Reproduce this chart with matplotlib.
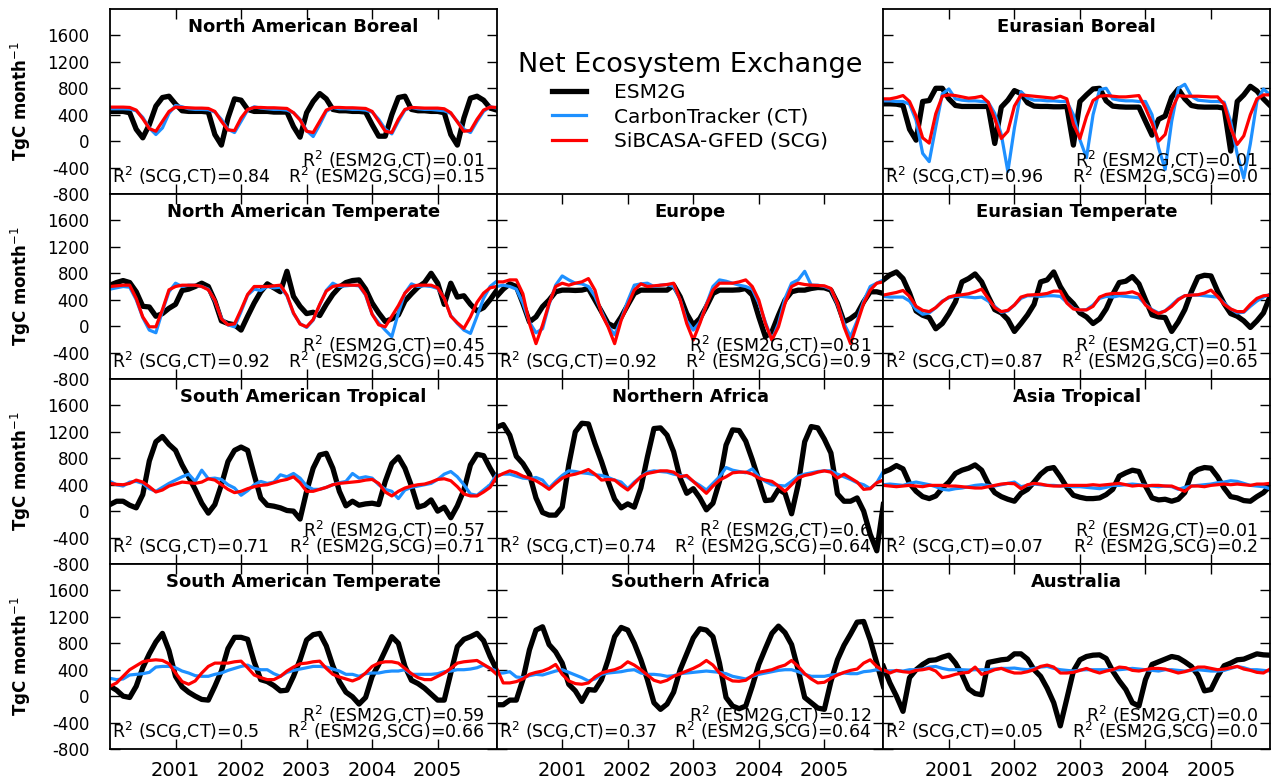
import numpy as np
import matplotlib
matplotlib.use('Agg')
import matplotlib.pyplot as plt

plt.rcParams['font.family'] = 'DejaVu Sans'
plt.rcParams['mathtext.fontset'] = 'dejavusans'
plt.rcParams['axes.unicode_minus'] = False

# monthly index, 60 months
months = np.arange(60)
year_ticks = [10, 20, 30, 40, 50]
year_labels = ['2001', '2002', '2003', '2004', '2005']
y_ticks = [-800, -400, 0, 400, 800, 1200, 1600]

# North American Boreal
nab_esm = [450, 450, 450, 430, 180, 50, 250, 530, 660, 680, 560, 460,
           450, 450, 450, 440, 100, -60, 350, 640, 620, 480, 450, 450,
           450, 440, 440, 440, 220, 60, 430, 600, 720, 640, 480, 460,
           460, 450, 450, 440, 250, 75, 75, 400, 660, 680, 480, 460,
           460, 450, 450, 430, 100, -60, 350, 650, 680, 620, 500, 470]
nab_ct = [490, 490, 490, 485, 460, 360, 200, 100, 200, 420, 540, 520,
          490, 480, 480, 475, 440, 330, 180, 130, 300, 470, 520, 500,
          490, 480, 480, 470, 430, 330, 160, 70, 250, 450, 510, 490,
          490, 480, 480, 470, 440, 330, 180, 110, 300, 470, 510, 490,
          480, 480, 470, 460, 420, 300, 180, 130, 300, 450, 520, 500]
nab_scg = [515, 515, 515, 510, 470, 340, 190, 150, 300, 450, 515, 510,
           505, 500, 500, 495, 450, 300, 170, 160, 350, 480, 510, 510,
           505, 505, 500, 495, 430, 320, 150, 130, 300, 470, 510, 510,
           505, 505, 500, 495, 450, 300, 150, 130, 330, 480, 510, 505,
           500, 500, 500, 490, 430, 290, 150, 160, 330, 470, 515, 510]

# Eurasian Boreal
eab_esm = [565, 565, 560, 540, 180, 15, 600, 615, 800, 800, 640, 540,
           525, 525, 525, 525, 525, -35, 515, 620, 765, 720, 580, 530,
           525, 525, 520, 520, 525, -60, 600, 700, 790, 800, 610, 530,
           520, 515, 515, 515, 300, 90, 330, 380, 665, 790, 640, 540,
           520, 515, 515, 515, 500, -150, 600, 700, 830, 760, 640, 540]
eab_ct = [610, 610, 600, 600, 560, 315, -185, -310, 215, 715, 790, 640,
          620, 610, 610, 600, 590, 420, 100, -460, 200, 750, 650, 620,
          620, 610, 610, 600, 600, 400, 20, -250, 400, 780, 800, 640,
          620, 610, 610, 600, 600, 400, -100, -430, 300, 800, 860, 680,
          620, 610, 600, 600, 590, 300, -200, -560, -40, 600, 790, 700]
eab_scg = [640, 640, 660, 690, 600, 380, 50, -30, 415, 680, 700, 690,
           670, 650, 660, 680, 590, 340, 40, 150, 530, 700, 690, 680,
           670, 660, 650, 680, 640, 260, 40, 370, 615, 680, 690, 680,
           670, 670, 680, 690, 500, 270, 0, 100, 480, 690, 680, 680,
           680, 675, 670, 670, 560, 200, -50, 80, 400, 640, 700, 700]

# North American Temperate
nat_esm = [620, 660, 690, 660, 520, 300, 290, 150, 190, 270, 330, 540,
           560, 600, 650, 600, 380, 80, 40, 20, -60, 150, 350, 520,
           640, 580, 520, 830, 450, 300, 190, 210, 160, 330, 480, 590,
           660, 690, 700, 560, 350, 200, 70, 110, 170, 380, 490, 590,
           660, 800, 650, 330, 650, 440, 460, 330, 230, 280, 400, 540]
nat_ct = [560, 580, 600, 590, 400, 130, -60, -100, 230, 520, 650, 600,
          620, 620, 600, 560, 380, 120, 20, -10, 220, 470, 560, 540,
          600, 580, 590, 460, 190, 40, -20, 90, 320, 540, 650, 600,
          610, 620, 610, 470, 180, 50, -60, -160, 200, 500, 640, 600,
          610, 600, 570, 420, 160, 40, -60, -110, 150, 420, 600, 680]
nat_scg = [600, 610, 620, 620, 420, 140, -10, -10, 250, 550, 600, 620,
           620, 620, 600, 550, 395, 110, 20, 35, 250, 480, 600, 600,
           600, 610, 620, 470, 200, 30, -10, 100, 330, 530, 600, 620,
           620, 620, 620, 480, 180, 20, -10, 150, 310, 500, 600, 620,
           620, 620, 580, 420, 150, 50, -35, 140, 360, 500, 580, 600]

# Europe
eu_esm = [450, 560, 640, 600, 345, 65, 140, 295, 395, 520, 545, 545,
          540, 545, 570, 395, 220, 40, -10, 140, 320, 495, 545, 545,
          545, 545, 545, 620, 445, 190, 15, 115, 295, 495, 545, 545,
          545, 550, 570, 470, 140, -160, -85, 165, 395, 520, 545, 545,
          570, 585, 580, 545, 345, 65, 115, 190, 370, 520, 520, 495]
eu_ct = [600, 620, 600, 560, 350, 60, -100, -40, 330, 620, 760, 700,
         650, 640, 600, 450, 220, 0, -130, 100, 380, 620, 640, 650,
         600, 620, 630, 600, 400, 80, -60, 60, 330, 600, 700, 680,
         650, 620, 600, 560, 350, 60, -210, 40, 420, 650, 700, 830,
         620, 620, 600, 560, 330, 40, -160, 80, 380, 600, 650, 700]
eu_scg = [670, 670, 700, 700, 490, 40, -265, 15, 345, 600, 650, 620,
          650, 670, 720, 545, 190, -10, -265, 90, 320, 545, 640, 600,
          610, 620, 630, 650, 395, 40, -210, 40, 320, 545, 650, 650,
          650, 670, 700, 600, 395, 40, -210, -10, 345, 600, 650, 630,
          620, 615, 610, 570, 345, -10, -265, 40, 345, 545, 650, 670]

# Eurasian Temperate
eat_esm = [700, 775, 820, 720, 500, 230, 165, 130, -40, 40, 190, 370,
           670, 720, 790, 670, 450, 250, 200, 100, -80, 40, 170, 330,
           670, 700, 820, 600, 440, 340, 200, 140, 40, 110, 260, 480,
           660, 680, 750, 640, 400, 170, 140, 130, -80, 65, 250, 520,
           740, 770, 760, 530, 340, 190, 150, 80, -20, 80, 200, 450]
eat_ct = [450, 440, 440, 440, 380, 250, 180, 200, 280, 380, 430, 450,
          450, 440, 430, 440, 380, 300, 210, 230, 320, 420, 460, 460,
          450, 460, 460, 450, 360, 270, 240, 250, 320, 420, 450, 440,
          460, 450, 440, 430, 330, 250, 200, 230, 320, 410, 460, 470,
          470, 460, 450, 440, 350, 260, 200, 210, 300, 380, 440, 480]
eat_scg = [470, 490, 510, 540, 450, 300, 240, 220, 280, 370, 440, 465,
           475, 490, 520, 560, 420, 280, 220, 240, 320, 440, 470, 475,
           480, 495, 530, 530, 350, 260, 245, 245, 300, 440, 480, 495,
           495, 500, 520, 480, 320, 240, 190, 230, 300, 400, 460, 470,
           475, 500, 545, 450, 330, 260, 220, 220, 330, 420, 460, 470]

# South American Tropical
sat_esm = [100, 150, 150, 90, 50, 250, 760, 1050, 1130, 1010, 920, 700,
           520, 330, 120, -30, 100, 400, 750, 920, 970, 920, 550, 200,
           90, 75, 50, 10, 0, -120, 300, 650, 850, 875, 650, 300,
           80, 150, 90, 110, 120, 100, 450, 720, 820, 650, 380, 60,
           90, 170, 0, 60, -100, 80, 320, 700, 860, 840, 650, 480]
sat_ct = [450, 400, 380, 440, 450, 420, 340, 300, 360, 420, 470, 520,
          560, 450, 620, 490, 500, 480, 400, 350, 240, 310, 400, 450,
          420, 440, 550, 520, 570, 500, 380, 330, 330, 360, 400, 430,
          450, 570, 500, 520, 500, 400, 330, 300, 190, 320, 360, 380,
          400, 420, 480, 560, 600, 520, 400, 260, 240, 320, 400, 550]
sat_scg = [420, 405, 400, 420, 470, 440, 370, 290, 320, 380, 410, 440,
           430, 420, 440, 490, 470, 400, 330, 280, 300, 340, 370, 390,
           400, 430, 460, 480, 520, 430, 300, 300, 330, 360, 400, 420,
           430, 440, 450, 470, 480, 420, 290, 230, 300, 350, 380, 400,
           410, 440, 480, 490, 460, 370, 260, 230, 230, 290, 360, 520]

# Northern Africa
naf_esm = [1270, 1310, 1150, 830, 720, 560, 200, -20, -60, -60, 60, 700,
           1200, 1330, 1320, 1020, 750, 450, 180, 50, 110, 60, 350, 820,
           1250, 1260, 1150, 900, 500, 270, 340, 200, 20, 120, 450, 1000,
           1230, 1220, 1060, 780, 470, 160, 170, 330, 270, -40, 400, 1050,
           1280, 1260, 1090, 880, 260, 150, 150, 200, 0, -350, -600, 100]
naf_ct = [540, 560, 560, 530, 500, 490, 510, 470, 350, 450, 540, 610,
          600, 580, 570, 550, 540, 510, 470, 440, 340, 440, 520, 590,
          610, 600, 590, 560, 540, 520, 450, 390, 320, 420, 520, 660,
          620, 600, 580, 640, 520, 450, 400, 390, 380, 450, 530, 560,
          580, 600, 610, 610, 560, 520, 480, 430, 400, 340, 430, 600]
naf_scg = [520, 570, 610, 580, 530, 500, 460, 400, 330, 420, 500, 540,
           560, 590, 630, 560, 470, 480, 470, 390, 320, 420, 520, 570,
           590, 610, 610, 590, 520, 540, 450, 360, 270, 380, 470, 520,
           580, 590, 590, 560, 500, 470, 450, 380, 300, 400, 500, 540,
           560, 590, 610, 590, 500, 560, 500, 440, 330, 340, 430, 470]

# Asia Tropical
ast_esm = [590, 630, 690, 640, 420, 300, 220, 190, 230, 350, 440, 570,
           620, 650, 700, 620, 420, 280, 220, 180, 150, 270, 330, 440,
           560, 640, 660, 520, 360, 240, 210, 190, 190, 200, 250, 330,
           530, 580, 620, 600, 380, 200, 170, 180, 150, 180, 280, 560,
           630, 660, 650, 520, 350, 220, 200, 160, 150, 220, 280, 380]
ast_ct = [400, 410, 400, 390, 420, 440, 420, 400, 370, 330, 320, 340,
          350, 370, 390, 400, 390, 380, 400, 420, 440, 370, 390, 410,
          400, 390, 390, 380, 380, 370, 370, 360, 350, 340, 360, 390,
          390, 400, 410, 400, 390, 380, 370, 380, 370, 330, 360, 380,
          390, 400, 410, 430, 440, 460, 450, 420, 390, 380, 370, 340]
ast_scg = [390, 380, 370, 380, 390, 380, 370, 390, 390, 390, 380, 380,
           370, 360, 350, 350, 370, 390, 410, 420, 415, 340, 400, 420,
           410, 390, 380, 380, 390, 390, 390, 390, 400, 390, 400, 410,
           420, 400, 380, 390, 380, 390, 390, 380, 380, 340, 300, 380,
           380, 370, 390, 400, 410, 400, 410, 400, 390, 410, 410, 420]

# South American Temperate
smt_esm = [150, 90, 0, -20, 150, 430, 640, 820, 950, 690, 300, 140,
           60, 0, -50, -60, 150, 380, 720, 890, 890, 860, 520, 250,
           220, 160, 80, 90, 300, 550, 850, 930, 950, 760, 460, 220,
           60, -10, -120, -20, 300, 480, 690, 900, 800, 450, 240, 190,
           120, 30, -60, -60, 350, 750, 860, 900, 950, 840, 600, 400]
smt_ct = [270, 250, 260, 320, 330, 340, 360, 440, 450, 450, 430, 380,
          350, 310, 300, 300, 330, 350, 390, 420, 450, 470, 420, 400,
          400, 340, 300, 360, 390, 410, 430, 450, 450, 440, 410, 380,
          330, 330, 300, 340, 350, 350, 370, 380, 380, 400, 330, 330,
          330, 330, 340, 370, 380, 400, 400, 410, 430, 470, 420, 380]
smt_scg = [150, 200, 300, 400, 460, 520, 540, 550, 540, 490, 350, 220,
           180, 230, 350, 450, 500, 500, 500, 520, 530, 430, 320, 280,
           250, 250, 300, 380, 440, 490, 500, 520, 530, 420, 330, 290,
           260, 230, 270, 350, 450, 500, 520, 520, 500, 420, 340, 280,
           250, 250, 300, 350, 420, 500, 520, 530, 540, 480, 420, 330]

# Southern Africa
saf_esm = [-130, -130, -60, -60, 250, 700, 1000, 1050, 780, 670, 500, 180,
           80, -80, 100, 90, 250, 550, 900, 1040, 1000, 800, 550, 250,
           -100, -200, -120, 60, 400, 640, 880, 1020, 1000, 900, 500, -20,
           -150, -190, -150, 150, 480, 720, 950, 1060, 960, 780, 400, -20,
           -100, -180, -200, 220, 550, 770, 940, 1120, 1130, 850, 500, 150]
saf_ct = [350, 350, 370, 290, 280, 310, 330, 320, 350, 380, 400, 360,
          320, 280, 230, 260, 330, 350, 360, 370, 390, 400, 350, 330,
          330, 320, 300, 310, 340, 350, 360, 370, 380, 370, 360, 340,
          300, 280, 260, 300, 330, 350, 370, 390, 400, 400, 370, 330,
          300, 300, 300, 320, 330, 350, 340, 340, 370, 380, 400, 400]
saf_scg = [420, 200, 200, 220, 260, 330, 360, 380, 420, 480, 330, 230,
           190, 180, 200, 290, 350, 380, 400, 440, 520, 470, 400, 320,
           240, 210, 240, 300, 340, 380, 420, 470, 540, 470, 350, 280,
           230, 225, 240, 310, 360, 380, 400, 440, 470, 540, 450, 340,
           260, 200, 210, 270, 320, 360, 390, 410, 500, 550, 450, 380]

# Australia
aus_esm = [450, 200, 0, -230, 280, 400, 480, 540, 550, 590, 620, 500,
           330, 110, 40, 20, 510, 530, 550, 560, 640, 640, 560, 400,
           300, 120, -100, -450, -40, 380, 550, 600, 620, 625, 570, 380,
           230, 100, -100, -150, 250, 480, 520, 560, 600, 580, 520, 450,
           320, 80, 100, 300, 460, 500, 550, 560, 600, 640, 625, 620]
aus_ct = [380, 380, 385, 380, 400, 400, 410, 440, 450, 420, 400, 400,
          400, 395, 400, 400, 400, 410, 420, 420, 425, 410, 400, 420,
          440, 450, 420, 400, 390, 380, 395, 400, 400, 400, 400, 400,
          400, 410, 420, 410, 400, 390, 380, 400, 400, 390, 380, 390,
          400, 390, 380, 380, 390, 420, 450, 430, 400, 400, 390, 380]
aus_scg = [400, 350, 390, 370, 360, 390, 400, 420, 380, 280, 300, 330,
           350, 360, 440, 330, 360, 400, 420, 380, 350, 350, 370, 400,
           450, 470, 440, 350, 350, 360, 390, 420, 380, 350, 380, 400,
           440, 430, 390, 380, 400, 420, 420, 410, 380, 350, 370, 400,
           440, 440, 420, 400, 410, 430, 450, 410, 390, 360, 350, 410]

# (row, col, title, ESM2G, CT, SCG, R2(SCG,CT), R2(ESM2G,CT), R2(ESM2G,SCG))
panels = [
    (0, 0, 'North American Boreal', nab_esm, nab_ct, nab_scg, '0.84', '0.01', '0.15'),
    (0, 2, 'Eurasian Boreal', eab_esm, eab_ct, eab_scg, '0.96', '0.01', '0.0'),
    (1, 0, 'North American Temperate', nat_esm, nat_ct, nat_scg, '0.92', '0.45', '0.45'),
    (1, 1, 'Europe', eu_esm, eu_ct, eu_scg, '0.92', '0.81', '0.9'),
    (1, 2, 'Eurasian Temperate', eat_esm, eat_ct, eat_scg, '0.87', '0.51', '0.65'),
    (2, 0, 'South American Tropical', sat_esm, sat_ct, sat_scg, '0.71', '0.57', '0.71'),
    (2, 1, 'Northern Africa', naf_esm, naf_ct, naf_scg, '0.74', '0.6', '0.64'),
    (2, 2, 'Asia Tropical', ast_esm, ast_ct, ast_scg, '0.07', '0.01', '0.2'),
    (3, 0, 'South American Temperate', smt_esm, smt_ct, smt_scg, '0.5', '0.59', '0.66'),
    (3, 1, 'Southern Africa', saf_esm, saf_ct, saf_scg, '0.37', '0.12', '0.64'),
    (3, 2, 'Australia', aus_esm, aus_ct, aus_scg, '0.05', '0.0', '0.0'),
]

fig, axes = plt.subplots(4, 3, figsize=(12.74, 7.81), dpi=100)
fig.subplots_adjust(left=110 / 1274, right=1270 / 1274, top=1 - 9 / 781,
                    bottom=1 - 749 / 781, wspace=0, hspace=0)

for r, c, title, esm, ct, scg, r_sc, r_ec, r_es in panels:
    ax = axes[r, c]
    ax.plot(months, esm, color='black', lw=3.8, label='ESM2G')
    ax.plot(months, ct, color='dodgerblue', lw=2.3, label='CarbonTracker (CT)')
    ax.plot(months, scg, color='red', lw=2.3, label='SiBCASA-GFED (SCG)')
    ax.set_xlim(0, 59)
    ax.set_ylim(-800, 2000)
    ax.set_xticks(year_ticks)
    ax.set_yticks(y_ticks)
    ax.tick_params(direction='in', top=True, right=True, length=7, width=1,
                   labelsize=12)
    ax.tick_params(axis='y', pad=15)
    ax.tick_params(axis='x', pad=9)
    for sp in ax.spines.values():
        sp.set_linewidth(1.3)
    if r == 3:
        ax.set_xticklabels(year_labels, fontsize=14)
    else:
        ax.set_xticklabels([])
    if c == 0:
        ax.set_ylabel('TgC month$^{-1}$', fontsize=12, fontweight='bold')
        ax.yaxis.set_label_coords(-0.198, 0.5)
    else:
        ax.set_yticklabels([])
    ax.text(0.5, 0.905, title, transform=ax.transAxes, ha='center', va='center',
            fontsize=13, fontweight='bold')
    ax.text(0.969, 0.148, 'R$^2$ (ESM2G,CT)=' + r_ec, transform=ax.transAxes,
            ha='right', va='baseline', fontsize=12.5)
    ax.text(0.969, 0.060, 'R$^2$ (ESM2G,SCG)=' + r_es, transform=ax.transAxes,
            ha='right', va='baseline', fontsize=12.5)
    ax.text(0.005, 0.060, 'R$^2$ (SCG,CT)=' + r_sc, transform=ax.transAxes,
            ha='left', va='baseline', fontsize=12.5)

# legend panel
ax_leg = axes[0, 1]
ax_leg.axis('off')
handles, labels = axes[0, 0].get_legend_handles_labels()
ax_leg.legend(handles, labels, loc='center', bbox_to_anchor=(0.5, 0.50),
              frameon=False, title='Net Ecosystem Exchange', title_fontsize=19.5,
              fontsize=14.5, handlelength=1.7, handletextpad=1.4, labelspacing=0.25)

fig.savefig('out.png', dpi=100)
